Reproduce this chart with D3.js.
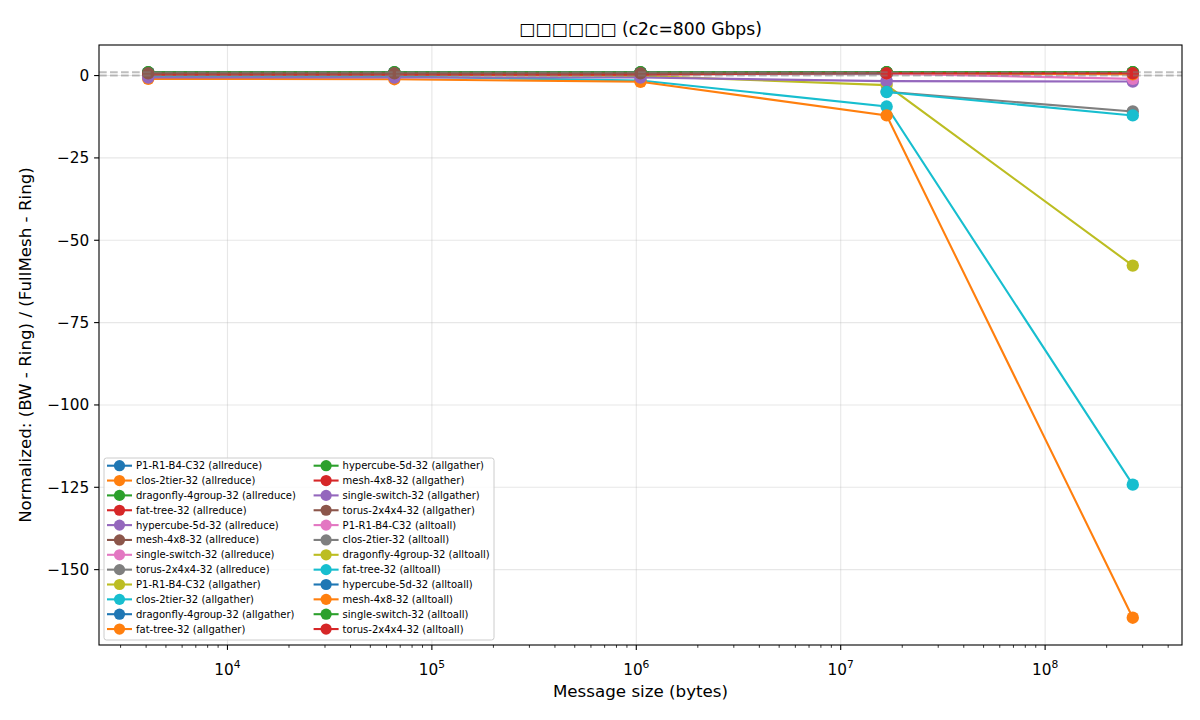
<!DOCTYPE html>
<html>
<head>
<meta charset="utf-8">
<script src="https://cdn.jsdelivr.net/npm/d3@7"></script>
<style>
    body { margin: 0; background: #ffffff; }
    text { font-family: "DejaVu Sans", sans-serif; }
</style>
</head>
<body>
<div id="line-chart"></div>
<script>
// message sizes (bytes)
const sizes = [4096, 65536, 1048576, 16777216, 268435456];
const topologies = ["P1-R1-B4-C32", "clos-2tier-32", "dragonfly-4group-32", "fat-tree-32",
    "hypercube-5d-32", "mesh-4x8-32", "single-switch-32", "torus-2x4x4-32"];
const collectives = ["allreduce", "allgather", "alltoall"];

// normalized values, one row per topology (same order as topologies)
const allreduceVals = [
    [0.9, 0.9, 0.9, 0.9, 0.9],
    [0.8, 0.8, 0.8, 0.8, 0.8],
    [1.0, 1.0, 1.0, 1.0, 1.0],
    [0.9, 0.9, 0.9, 0.9, 0.9],
    [0.6, 0.6, 0.6, 0.6, 0.6],
    [0.7, 0.7, 0.7, 0.7, 0.7],
    [0.8, 0.8, 0.8, 0.8, 0.8],
    [0.7, 0.7, 0.7, 0.7, 0.7]
];
const allgatherVals = [
    [0.2, 0.1, -0.1, -2.9, -57.7],
    [-0.3, -0.3, -1.5, -9.4, -124.2],
    [0.9, 0.9, 0.9, 0.9, 0.9],
    [-1.0, -1.1, -1.9, -12.1, -164.6],
    [1.0, 1.0, 1.0, 1.0, 1.0],
    [0.3, 0.3, 0.3, 0.8, 0.8],
    [-0.6, -0.6, -0.6, -1.7, -1.8],
    [0.7, 0.7, 0.7, 0.7, 0.7]
];
const alltoallVals = [
    [null, null, null, 0.6, -1.0],
    [null, null, null, -4.9, -10.9],
    [null, null, null, 0.8, 0.9],
    [null, null, null, -5.0, -12.1],
    [null, null, null, 0.8, 0.8],
    [null, null, null, 0.8, 0.4],
    [null, null, null, 1.0, 1.0],
    [null, null, null, 0.7, 0.7]
];
const refLines = [0, 1];
const xTickExps = [4, 5, 6, 7, 8];
const yTicks = [0, -25, -50, -75, -100, -125, -150];
const palette = ["#1f77b4", "#ff7f0e", "#2ca02c", "#d62728", "#9467bd",
    "#8c564b", "#e377c2", "#7f7f7f", "#bcbd22", "#17becf"];
const chartTitle = "□□□□□□ (c2c=800 Gbps)";

const drawLineChart = () => {
    const width = 1200;
    const height = 720;
    const margin = { top: 45, right: 18, bottom: 75, left: 99 };
    const innerWidth = width - margin.left - margin.right;
    const innerHeight = height - margin.top - margin.bottom;

    // build series list
    const valueSets = [allreduceVals, allgatherVals, alltoallVals];
    const series = [];
    collectives.forEach((c, ci) => {
        topologies.forEach((t, ti) => {
            series.push({
                name: `${t} (${c})`,
                values: valueSets[ci][ti].map((v, i) => ({ size: sizes[i], v: v }))
                    .filter(d => d.v !== null)
            });
        });
    });
    series.forEach((s, i) => s.color = palette[i % palette.length]);

    const svg = d3.select("#line-chart")
        .append("svg")
        .attr("width", width)
        .attr("height", height)
        .attr("viewBox", `0 0 ${width} ${height}`);

    svg.append("rect")
        .attr("width", width)
        .attr("height", height)
        .attr("fill", "#ffffff");

    const innerChart = svg.append("g")
        .attr("transform", `translate(${margin.left}, ${margin.top})`);

    // x-scale (log, matplotlib style 5% margins in log space)
    const lx = d3.extent(sizes).map(Math.log10);
    const padX = (lx[1] - lx[0]) * 0.05;
    const xScale = d3.scaleLog()
        .domain([Math.pow(10, lx[0] - padX), Math.pow(10, lx[1] + padX)])
        .range([0, innerWidth]);

    // y-scale
    const allVals = series.flatMap(s => s.values.map(d => d.v));
    const ext = d3.extent(allVals);
    const padY = (ext[1] - ext[0]) * 0.05;
    const yScale = d3.scaleLinear()
        .domain([ext[0] - padY, ext[1] + padY])
        .range([innerHeight, 0]);

    // grid
    innerChart.append("g")
        .selectAll("line")
        .data(xTickExps)
        .join("line")
        .attr("x1", d => xScale(Math.pow(10, d)))
        .attr("x2", d => xScale(Math.pow(10, d)))
        .attr("y1", 0)
        .attr("y2", innerHeight)
        .attr("stroke", "#b0b0b0")
        .attr("stroke-opacity", 0.3)
        .attr("stroke-width", 1.1);
    innerChart.append("g")
        .selectAll("line")
        .data(yTicks)
        .join("line")
        .attr("x1", 0)
        .attr("x2", innerWidth)
        .attr("y1", d => yScale(d))
        .attr("y2", d => yScale(d))
        .attr("stroke", "#b0b0b0")
        .attr("stroke-opacity", 0.3)
        .attr("stroke-width", 1.1);

    // lines + markers
    const line = d3.line()
        .x(d => xScale(d.size))
        .y(d => yScale(d.v));

    const plot = innerChart.append("g");
    series.forEach(s => {
        const g = plot.append("g");
        g.append("path")
            .attr("d", line(s.values))
            .attr("fill", "none")
            .attr("stroke", s.color)
            .attr("stroke-width", 2.1);
        g.selectAll("circle")
            .data(s.values)
            .join("circle")
            .attr("cx", d => xScale(d.size))
            .attr("cy", d => yScale(d.v))
            .attr("r", 6.2)
            .attr("fill", s.color);
    });

    // reference lines
    innerChart.append("g")
        .selectAll("line")
        .data(refLines)
        .join("line")
        .attr("x1", 0)
        .attr("x2", innerWidth)
        .attr("y1", d => yScale(d))
        .attr("y2", d => yScale(d))
        .attr("stroke", "#808080")
        .attr("stroke-opacity", 0.5)
        .attr("stroke-width", 2.1)
        .attr("stroke-dasharray", "7.7,3.3");

    // frame
    innerChart.append("rect")
        .attr("width", innerWidth)
        .attr("height", innerHeight)
        .attr("fill", "none")
        .attr("stroke", "#000000")
        .attr("stroke-width", 1.1);

    // x axis
    const minorTicks = [];
    for (let e = 3; e <= 8; e++) {
        for (let m = 2; m <= 9; m++) {
            const v = m * Math.pow(10, e);
            if (v >= xScale.domain()[0] && v <= xScale.domain()[1]) minorTicks.push(v);
        }
    }
    const xAxisG = innerChart.append("g")
        .attr("transform", `translate(0, ${innerHeight})`);
    xAxisG.selectAll(".minor")
        .data(minorTicks)
        .join("line")
        .attr("class", "minor")
        .attr("x1", d => xScale(d))
        .attr("x2", d => xScale(d))
        .attr("y1", 0)
        .attr("y2", 2.8)
        .attr("stroke", "#000")
        .attr("stroke-width", 0.8);
    const majorG = xAxisG.selectAll(".major")
        .data(xTickExps)
        .join("g")
        .attr("class", "major")
        .attr("transform", d => `translate(${xScale(Math.pow(10, d))}, 0)`);
    majorG.append("line")
        .attr("y2", 4.9)
        .attr("stroke", "#000")
        .attr("stroke-width", 1.1);
    const lbl = majorG.append("text")
        .attr("y", 30)
        .attr("text-anchor", "middle")
        .attr("font-size", "15.3px")
        .attr("fill", "#000");
    lbl.append("tspan").text("10");
    lbl.append("tspan")
        .attr("dy", -7)
        .attr("font-size", "10.7px")
        .text(d => d);

    // y axis
    const yAxisG = innerChart.append("g");
    const yt = yAxisG.selectAll("g")
        .data(yTicks)
        .join("g")
        .attr("transform", d => `translate(0, ${yScale(d)})`);
    yt.append("line")
        .attr("x2", -4.9)
        .attr("stroke", "#000")
        .attr("stroke-width", 1.1);
    yt.append("text")
        .attr("x", -9.8)
        .attr("dy", "0.35em")
        .attr("text-anchor", "end")
        .attr("font-size", "15.3px")
        .attr("fill", "#000")
        .text(d => d3.format("d")(d));

    // labels
    svg.append("text")
        .attr("x", margin.left + innerWidth / 2)
        .attr("y", 697)
        .attr("text-anchor", "middle")
        .attr("font-size", "16.7px")
        .text("Message size (bytes)");
    svg.append("text")
        .attr("transform", `translate(31, ${margin.top + innerHeight / 2}) rotate(-90)`)
        .attr("text-anchor", "middle")
        .attr("font-size", "16.7px")
        .text("Normalized: (BW - Ring) / (FullMesh - Ring)");
    svg.append("text")
        .attr("x", margin.left + innerWidth / 2)
        .attr("y", 35)
        .attr("text-anchor", "middle")
        .attr("font-size", "17.2px")
        .text(chartTitle);

    // legend
    const legend = svg.append("g")
        .attr("transform", "translate(104, 458)");
    legend.append("rect")
        .attr("width", 390)
        .attr("height", 182)
        .attr("rx", 2.5)
        .attr("fill", "#ffffff")
        .attr("fill-opacity", 0.8)
        .attr("stroke", "#cccccc")
        .attr("stroke-width", 1);
    const rows = 12;
    const item = legend.selectAll(".item")
        .data(series)
        .join("g")
        .attr("class", "item")
        .attr("transform", (d, i) => `translate(${3 + Math.floor(i / rows) * 206.6}, ${7.7 + (i % rows) * 14.85})`);
    item.append("line")
        .attr("x1", 0)
        .attr("x2", 25)
        .attr("stroke", d => d.color)
        .attr("stroke-width", 2.1);
    item.append("circle")
        .attr("cx", 12.5)
        .attr("r", 5.6)
        .attr("fill", d => d.color);
    item.append("text")
        .attr("x", 29)
        .attr("dy", "0.35em")
        .attr("font-size", "10px")
        .attr("fill", "#000")
        .text(d => d.name);
};

drawLineChart();
</script>
</body>
</html>
